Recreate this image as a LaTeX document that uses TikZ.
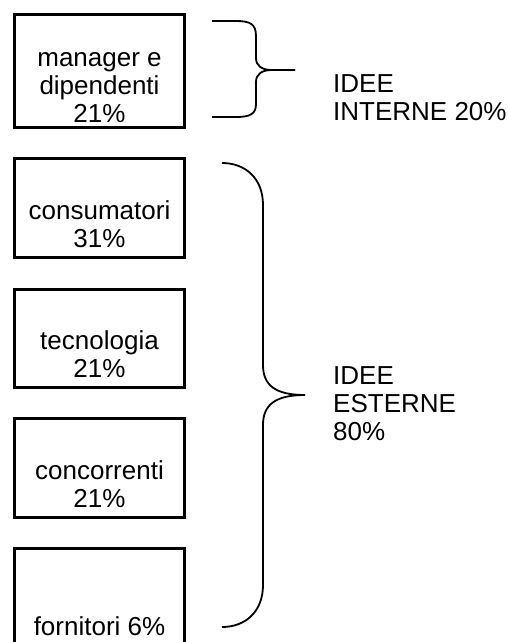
\documentclass[tikz,border=0pt]{standalone}
\usepackage{fontspec}
\setmainfont{Liberation Sans}
\usetikzlibrary{positioning}

\begin{document}
\begin{tikzpicture}[x=1pt,y=-1pt,
    box/.style={draw=black, line width=3pt, minimum width=170pt, inner sep=0pt},
    txt/.style={align=center, font=\fontsize{26pt}{28pt}\selectfont, inner sep=0pt},
    side/.style={align=left, font=\fontsize{26pt}{28pt}\selectfont, inner sep=0pt},
    brace/.style={line width=1.8pt}]
\useasboundingbox (0,0) rectangle (508,642);
\clip (0,0) rectangle (508,642);
% boxes
\node[box, minimum height=112pt] (man) at (99.5,71) {};
\node[box, minimum height=99pt] (cons) at (99.5,207.5) {};
\node[box, minimum height=98pt] (tec) at (99.5,338) {};
\node[box, minimum height=99pt] (conc) at (99.5,467.5) {};
\node[box, minimum height=99pt] (forn) at (99.5,598) {};
% texts
\node[txt, anchor=base] (mant) at (99.5,122) {manager e\\dipendenti\\21\%};
\node[txt, anchor=base] (const) at (99.5,247) {consumatori\\31\%};
\node[txt, anchor=base] (tect) at (99.5,377) {tecnologia\\21\%};
\node[txt, anchor=base] (conct) at (99.5,507) {concorrenti\\21\%};
\node[txt, anchor=base] (fornt) at (99.5,635) {fornitori 6\%};
% braces
\coordinate (int) at (295,70);
\coordinate (est) at (305,395);
\draw[brace] (212,21) -- (236,21) .. controls (250,21) and (256,24) .. (256,36)
  -- (256,58) .. controls (256,66) and (262,70) .. (272,70) -- (int);
\draw[brace] (int) -- (272,70) .. controls (262,70) and (256,74) .. (256,82)
  -- (256,104) .. controls (256,114) and (250,117) .. (236,117) -- (212,117);
\draw[brace] (222,163) .. controls (245,163) and (263,178) .. (263,205)
  -- (263,365) .. controls (263,385) and (275,395) .. (est);
\draw[brace] (est) .. controls (275,395) and (263,405) .. (263,425)
  -- (263,585) .. controls (263,612) and (245,627) .. (222,627);
\node[side, anchor=base west] (intl) at (333,120) {IDEE\\INTERNE 20\%};
\node[side, anchor=base west] (estl) at (333,440) {IDEE\\ESTERNE\\80\%};
\end{tikzpicture}
\end{document}
